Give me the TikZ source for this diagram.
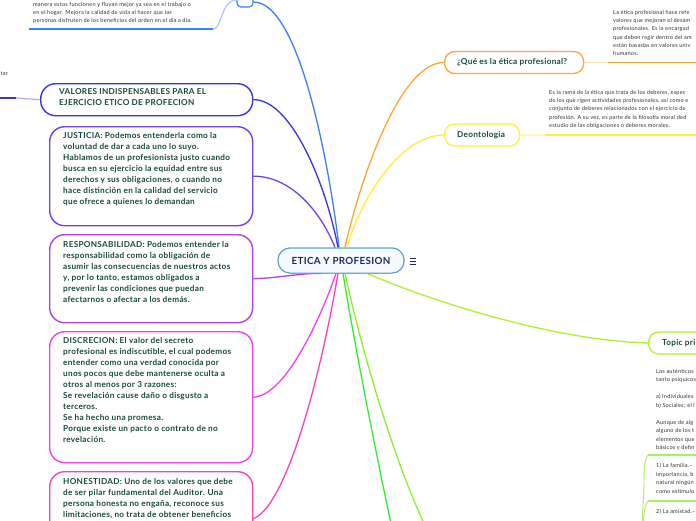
\documentclass[tikz,border=0pt]{standalone}
\usepackage{fontspec}
\setmainfont{Lato}[LetterSpace=3.5]
\definecolor{cBlueTop}{HTML}{3D7DFF}
\definecolor{cBlueLight}{HTML}{A8C4FF}
\definecolor{cValores}{HTML}{3535E8}
\definecolor{cValLight}{HTML}{AAAAF5}
\definecolor{cJust}{HTML}{7040F0}
\definecolor{cResp}{HTML}{B040F0}
\definecolor{cDisc}{HTML}{F040F0}
\definecolor{cHon}{HTML}{FF40B0}
\definecolor{cOrange}{HTML}{FFA436}
\definecolor{cOrLight}{HTML}{FFDDB2}
\definecolor{cYellow}{HTML}{FFF033}
\definecolor{cYeLight}{HTML}{FFF8B8}
\definecolor{cTopic}{HTML}{B0F030}
\definecolor{cTopicLine}{HTML}{A8F060}
\definecolor{cGreen}{HTML}{30F030}
\definecolor{cYG}{HTML}{90F030}
\definecolor{cCenter}{HTML}{5A9FD4}
\definecolor{cCenterFill}{HTML}{F5FAFE}
\definecolor{cNavy}{HTML}{1C2D5A}
\definecolor{txtgreen}{HTML}{174A3A}
\definecolor{txtgray}{HTML}{333333}
\tikzset{
  valbox/.style={draw, rounded corners=15pt, line width=1.4pt, fill=white, inner sep=0pt, anchor=north west},
  pillbox/.style={draw, rounded corners=10pt, line width=1.3pt, fill=white, inner sep=0pt, anchor=west, minimum height=22pt},
  btxt/.style={anchor=north west, inner sep=0pt, align=left, text=txtgreen, font=\fontsize{8.2}{11}\selectfont\bfseries},
  stxt/.style={anchor=north west, inner sep=0pt, align=left, text=txtgray, font=\fontsize{5.6}{8.3}\selectfont},
  conn/.style={line width=1.3pt},
  uline/.style={line width=1.8pt},
  light/.style={line width=1.2pt},
}
\begin{document}
\begin{tikzpicture}[x=1pt,y=-1pt]
\useasboundingbox (0,0) rectangle (696,520);
\fill[white] (0,0) rectangle (696,520);

% ---------- left boxes ----------
\node[valbox, draw=cValores, minimum width=212pt, minimum height=32pt] (valores) at (40,83) {};
\node[btxt] (valorestxt) at (59,88) {VALORES INDISPENSABLES PARA EL\\EJERCICIO ETICO DE PROFECION};

\node[valbox, draw=cJust, minimum width=203pt, minimum height=99pt] (just) at (49,126) {};
\node[btxt] (justtxt) at (63,132) {JUSTICIA: Podemos entenderla como la\\voluntad de dar a cada uno lo suyo.\\Hablamos de un profesionista justo cuando\\busca en su ejercicio la equidad entre sus\\derechos y sus obligaciones, o cuando no\\hace distinción en la calidad del servicio\\que ofrece a quienes lo demandan};

\node[valbox, draw=cResp, minimum width=203pt, minimum height=88pt] (resp) at (49,234) {};
\node[btxt] (resptxt) at (63,241) {RESPONSABILIDAD: Podemos entender la\\responsabilidad como la obligación de\\asumir las consecuencias de nuestros actos\\y, por lo tanto, estamos obligados a\\prevenir las condiciones que puedan\\afectarnos o afectar a los demás.};

\node[valbox, draw=cDisc, minimum width=203pt, minimum height=131pt] (disc) at (49,331) {};
\node[btxt] (disctxt) at (63,337) {DISCRECION: El valor del secreto\\profesional es indiscutible, el cual podemos\\entender como una verdad conocida por\\unos pocos que debe mantenerse oculta a\\otros al menos por 3 razones:\\Se revelación cause daño o disgusto a\\terceros.\\Se ha hecho una promesa.\\Porque existe un pacto o contrato de no\\revelación.};

\node[valbox, draw=cHon, minimum width=203pt, minimum height=90pt] (hon) at (49,471) {};
\node[btxt] (hontxt) at (63,478) {HONESTIDAD: Uno de los valores que debe\\de ser pilar fundamental del Auditor. Una\\persona honesta no engaña, reconoce sus\\limitaciones, no trata de obtener beneficios};

% ---------- top-left text block ----------
\node[stxt] (tltxt) at (33,2) {manera estos funcionen y fluyan mejor ya sea en el trabajo o\\en el hogar. Mejora la calidad de vida al hacer que las\\personas disfruten de los beneficios del orden en el día a día.};
\coordinate (ul1s) at (29,29);
\coordinate (ul1e) at (213,29);
\draw[uline, cBlueTop] (ul1s) -- (ul1e);
\node[draw=cBlueTop, rounded corners=4pt, line width=1.2pt, minimum width=16pt, minimum height=14pt, inner sep=0pt, fill=white] (tb) at (245,0) {};
\draw[light, cBlueLight] (ul1e) .. controls (222,29) and (221,0) .. (tb.west);

% ---------- left fragment ----------
\node[stxt, anchor=north east] (lfrag) at (8,72) {tar};
\coordinate (lu0) at (-5,98);
\coordinate (lu) at (16,98);
\draw[uline, cValores] (lu0) -- (lu);
\draw[light, cValLight] (lu) -- (valores.west);

% ---------- center ----------
\node[draw=cCenter, fill=cCenterFill, rounded corners=12pt, line width=1pt, minimum width=126pt, minimum height=25pt, inner sep=0pt] (ctr) at (341,260.5) {};

% connectors (drawn under center node)
\draw[conn, cBlueTop] ([yshift=-2pt]tb.east) .. controls (300,2) and (330,170) .. ([xshift=-2pt]ctr.north);
\draw[conn, cValores] (valores.east) .. controls (290,99) and (325,180) .. ([xshift=-3pt]ctr.north);
\draw[conn, cJust] (just.east) .. controls (290,176) and (320,210) .. ([xshift=-6pt]ctr.north);
\draw[conn, cResp] (resp.east) .. controls (280,278) and (300,273) .. ([xshift=-20pt]ctr.south);
\draw[conn, cDisc] (disc.east) .. controls (285,396) and (320,320) .. ([xshift=-5pt]ctr.south);
\coordinate (honEnd) at (252,519);
\draw[conn, cHon] (honEnd) .. controls (285,510) and (320,380) .. ([xshift=-3pt]ctr.south);
\coordinate (gEnd) at (392,528);
\draw[conn, cGreen] ([xshift=2pt]ctr.south) .. controls (352,330) and (375,450) .. (gEnd);
\coordinate (ygEnd) at (426,528);
\draw[conn, cYG] ([xshift=4pt]ctr.south) .. controls (355,320) and (385,440) .. (ygEnd);

% ---------- right nodes ----------
\node[pillbox, draw=cOrange, minimum width=139pt] (que) at (444,62.5) {};
\node[btxt, anchor=west] (quetxt) at (457,62.5) {¿Qué es la ética profesional?};
\node[pillbox, draw=cYellow, minimum width=75pt] (deon) at (444,135) {};
\node[btxt, anchor=west] (deontxt) at (457,135) {Deontologia};
\node[pillbox, draw=cTopic, minimum width=80pt] (topic) at (648,343) {};
\node[btxt, anchor=west] (topictxt) at (662,343) {Topic pri};

\draw[conn, cOrange] (que.west) .. controls (400,62) and (360,180) .. ([xshift=4pt]ctr.north);
\draw[conn, cYellow] (deon.west) .. controls (400,135) and (360,200) .. ([xshift=6pt]ctr.north);
\draw[conn, cTopic] ([xshift=11pt,yshift=7pt]ctr.south) .. controls (400,290) and (540,340) .. (topic.west);

% center node on top
\node[draw=cCenter, fill=cCenterFill, rounded corners=12pt, line width=1pt, minimum width=126pt, minimum height=25pt, inner sep=0pt, font=\fontsize{9.8}{11}\selectfont\bfseries, text=cNavy] (ctr2) at (ctr.center) {ETICA Y PROFESION};
\draw[cNavy, line width=0.8pt] (410,258) -- (416,258) (410,261) -- (416,261) (410,264) -- (416,264);

% ---------- orange text block ----------
\node[stxt] (quetext) at (613,10) {La ética profesional hace refe\\valores que mejoran el desam\\profesionales. Es la encargad\\que deben regir dentro del am\\están basadas en valores univ\\humanos.};
\coordinate (ou) at (608,62.5);
\coordinate (oe) at (700,62.5);
\draw[light, cOrLight] (que.east) -- (ou);
\draw[uline, cOrange] (ou) -- (oe);

% ---------- yellow text block ----------
\node[stxt] (deontext) at (549,90) {Es la rama de la ética que trata de los deberes, espec\\de los que rigen actividades profesionales, así como e\\conjunto de deberes relacionados con el ejercicio de\\profesión. A su vez, es parte de la filosofía moral ded\\estudio de las obligaciones o deberes morales.};
\coordinate (yu) at (545,135);
\coordinate (ye) at (700,135);
\draw[light, cYeLight] (deon.east) -- (yu);
\draw[uline, cYellow] (yu) -- (ye);

% ---------- topic text blocks ----------
\node[stxt, font=\fontsize{5.6}{8.5}\selectfont] (t1) at (656,369) {Los auténticos\\tanto psíquicos\\[8.5pt]a) Individuales\\b) Sociales: el l\\[8.5pt]Aunque de alg\\alguno de los t\\elementos que\\básicos y defin};
\coordinate (t1u) at (648,455);
\coordinate (t1e) at (700,455);
\draw[uline, cTopicLine] (t1u) -- (t1e);
\node[stxt, font=\fontsize{5.6}{8.5}\selectfont] (t2) at (656,463) {1) La familia.–\\importancia, b\\natural ningún\\como estímulo};
\coordinate (t2u) at (648,501);
\coordinate (t2e) at (700,501);
\draw[uline, cTopicLine] (t2u) -- (t2e);
\node[stxt] (t3) at (656,509) {2) La amistad.–};
\coordinate (b1) at (642,525);
\coordinate (b2) at (643,525);
\draw[light, cTopicLine, line width=0.9pt] (t1u) .. controls (644,460) and (644,470) .. (644,485) -- (b1);
\draw[light, cTopicLine, line width=0.9pt] (t2u) .. controls (645,505) and (644,512) .. (b2);
\end{tikzpicture}
\end{document}
